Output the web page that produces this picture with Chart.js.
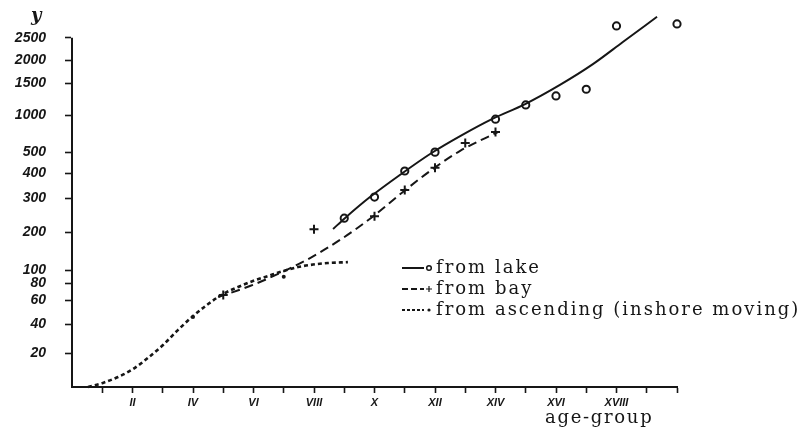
<!DOCTYPE html>
<html lang="en">
<head>
    <meta charset="UTF-8">
    <title>Weight by age-group</title>
    <script src="https://cdn.jsdelivr.net/npm/chart.js@4/dist/chart.umd.min.js"></script>
    <style>
        body { margin: 0; background: #fff; }
    </style>
</head>
<body>

<canvas id="weight-chart" width="810" height="438"></canvas>

<script>
    // x axis: age groups, labelled with roman numerals on the even ones
    const ageTicks = [1, 2, 3, 4, 5, 6, 7, 8, 9, 10, 11, 12, 13, 14, 15, 16, 17, 18, 19, 20];
    const romanLabels = {2: 'II', 4: 'IV', 6: 'VI', 8: 'VIII', 10: 'X', 12: 'XII', 14: 'XIV', 16: 'XVI', 18: 'XVIII'};

    // y axis tick values (weight)
    const weightTicks = [20, 40, 60, 80, 100, 200, 300, 400, 500, 1000, 1500, 2000, 2500];

    // from lake
    const lakeAges = [9, 10, 11, 12, 14, 15, 16, 17, 18, 20];
    const lakeWeights = [242, 306, 410, 500, 946, 1160, 1300, 1405, 2762, 2807];
    const lakeCurveAges = [8.63, 9.02, 9.85, 10.84, 11.9, 12.89, 13.88, 14.98, 16.13, 17.22, 18.21, 19.34];
    const lakeCurveWeights = [210, 242, 306, 393, 497, 730, 946, 1173, 1473, 1914, 2404, 2964];

    // from bay
    const bayAges = [5, 8, 10, 11, 12, 13, 14];
    const bayWeights = [66, 209, 248, 334, 425, 622, 772];
    const bayCurveAges = [4.83, 5.88, 6.88, 7.87, 8.86, 9.92, 10.94, 11.93, 12.83, 14.08];
    const bayCurveWeights = [63.6, 76.8, 95.5, 132, 180, 245, 326, 420, 517, 772];

    // from ascending (inshore moving)
    const ascAges = [4, 7];
    const ascWeights = [46, 90];
    const ascCurveAges = [0.53, 1.02, 1.52, 2.02, 2.51, 3.01, 3.5, 4.0, 4.5, 4.99, 5.49, 5.98, 6.48, 6.98, 7.47, 7.97, 8.46, 9.12];
    const ascCurveWeights = [0, 2.4, 5.9, 10.6, 17.1, 25.6, 36, 46.8, 56.7, 67.2, 75.6, 83.5, 91, 98.5, 108, 114.6, 118.6, 121];

    // the hand drawn weight axis is stretched unevenly: where each stop sits along it (0 = zero, 1 = 2500)
    const axisStops = [0, 20, 40, 60, 80, 100, 200, 300, 400, 500, 1000, 1500, 2000, 2500];
    const axisPlaces = [0, 0.0973, 0.1794, 0.2489, 0.2967, 0.3348, 0.4426, 0.5393, 0.6123, 0.6724, 0.7783, 0.8698, 0.9356, 1];

    function toDecimal(v) {
        let i = 1;
        while (i < axisStops.length - 1 && v > axisStops[i]) i++;
        const a = axisStops[i - 1], b = axisStops[i];
        return axisPlaces[i - 1] + (v - a) / (b - a) * (axisPlaces[i] - axisPlaces[i - 1]);
    }

    function fromDecimal(d) {
        let i = 1;
        while (i < axisPlaces.length - 1 && d > axisPlaces[i]) i++;
        const a = axisPlaces[i - 1], b = axisPlaces[i];
        return axisStops[i - 1] + (d - a) / (b - a) * (axisStops[i] - axisStops[i - 1]);
    }

    class StretchScale extends Chart.LinearScale {
        getPixelForValue(value) {
            if (value === null || isNaN(value)) return NaN;
            return this.getPixelForDecimal(toDecimal(value) / toDecimal(this.max));
        }
        getValueForPixel(pixel) {
            return fromDecimal(this.getDecimalForPixel(pixel) * toDecimal(this.max));
        }
        // the axis line stops at the last tick, like the drawing
        drawBorder() {
            const ctx = this.ctx;
            const border = this.options.border;
            const last = weightTicks[weightTicks.length - 1];
            ctx.save();
            ctx.lineWidth = border.width;
            ctx.strokeStyle = border.color;
            ctx.beginPath();
            ctx.moveTo(this.right, this.getPixelForValue(last));
            ctx.lineTo(this.right, this.bottom + 1);
            ctx.stroke();
            ctx.restore();
        }
    }
    StretchScale.id = 'stretch';
    StretchScale.defaults = Chart.LinearScale.defaults;
    Chart.register(StretchScale);

    const ink = '#161616';

    function points(xs, ys) {
        return xs.map((x, i) => ({x: x, y: ys[i]}));
    }

    const curveStyle = {
        showLine: true,
        pointRadius: 0,
        borderColor: ink,
        borderWidth: 2,
        cubicInterpolationMode: 'monotone',
        clip: false
    };

    const datasets = [
        Object.assign({label: 'from lake', data: points(lakeCurveAges, lakeCurveWeights)}, curveStyle),
        Object.assign({label: 'from bay', data: points(bayCurveAges, bayCurveWeights)}, curveStyle, {borderDash: [9, 5]}),
        Object.assign({label: 'from ascending (inshore moving)', data: points(ascCurveAges, ascCurveWeights)},
            curveStyle, {borderDash: [4, 3], borderWidth: 2.6}),
        {
            data: points(lakeAges, lakeWeights), pointStyle: 'circle', pointRadius: 3.6,
            borderColor: ink, borderWidth: 2, backgroundColor: 'rgba(0,0,0,0)', clip: false
        },
        {
            data: points(bayAges, bayWeights), pointStyle: 'cross', pointRadius: 4.5,
            borderColor: ink, borderWidth: 2, clip: false
        },
        {
            data: points(ascAges, ascWeights), pointStyle: 'circle', pointRadius: 2,
            borderColor: ink, borderWidth: 0, backgroundColor: ink, clip: false
        }
    ];

    // free text: axis names and the key drawn in the plot
    const notes = {
        id: 'notes',
        afterDraw(chart) {
            const ctx = chart.ctx;
            ctx.save();
            ctx.fillStyle = ink;
            ctx.strokeStyle = ink;
            ctx.textBaseline = 'alphabetic';

            ctx.font = 'italic bold 18px "DejaVu Serif"';
            ctx.fillText('y', 31, 21);

            ctx.font = '18px "DejaVu Serif"';
            ctx.letterSpacing = '1.7px';
            ctx.fillText('age-group', 545, 423);

            ctx.font = '18px "DejaVu Serif"';
            ctx.letterSpacing = '2px';
            const rows = [
                {y: 268, dash: [], mark: 'ring'},
                {y: 289, dash: [6, 3], mark: 'cross'},
                {y: 310, dash: [3, 2], mark: 'dot'}
            ];
            rows.forEach((row, i) => {
                ctx.lineWidth = 2;
                ctx.setLineDash(row.dash);
                ctx.beginPath();
                ctx.moveTo(402, row.y);
                ctx.lineTo(424, row.y);
                ctx.stroke();
                ctx.setLineDash([]);
                ctx.beginPath();
                if (row.mark === 'ring') {
                    ctx.lineWidth = 1.5;
                    ctx.arc(429, row.y, 2.3, 0, Math.PI * 2);
                    ctx.stroke();
                } else if (row.mark === 'cross') {
                    ctx.lineWidth = 1.2;
                    ctx.moveTo(426, row.y); ctx.lineTo(432, row.y);
                    ctx.moveTo(429, row.y - 3); ctx.lineTo(429, row.y + 3);
                    ctx.stroke();
                } else {
                    ctx.arc(429, row.y, 1.6, 0, Math.PI * 2);
                    ctx.fill();
                }
                ctx.fillText(chart.data.datasets[i].label, 436, row.y + 5);
            });
            ctx.restore();
        }
    };

    new Chart('weight-chart', {
        type: 'scatter',
        data: {datasets: datasets},
        options: {
            responsive: false,
            animation: false,
            layout: {padding: {top: 15.2, right: 133, bottom: 0, left: 0}},
            plugins: {legend: {display: false}, tooltip: {enabled: false}},
            scales: {
                x: {
                    type: 'linear',
                    min: 0,
                    max: 20,
                    afterBuildTicks: scale => { scale.ticks = ageTicks.map(v => ({value: v})); },
                    afterFit: scale => {
                        scale.height = 51;
                        scale.paddingLeft = 0;
                        scale.paddingRight = 0;
                    },
                    grid: {drawOnChartArea: false, tickLength: 6, tickWidth: 1.6, color: ink},
                    border: {color: ink, width: 2},
                    ticks: {
                        autoSkip: false,
                        maxRotation: 0,
                        padding: 3,
                        color: ink,
                        font: {family: '"Liberation Sans"', size: 11, style: 'italic', weight: 'bold'},
                        callback: value => romanLabels[value] || ''
                    }
                },
                y: {
                    type: 'stretch',
                    min: 0,
                    max: 3000,
                    afterBuildTicks: scale => { scale.ticks = weightTicks.map(v => ({value: v})); },
                    afterFit: scale => {
                        scale.width = 72;
                        scale.paddingTop = 0;
                        scale.paddingBottom = 0;
                    },
                    grid: {drawOnChartArea: false, tickLength: 7, tickWidth: 1.6, color: ink},
                    border: {color: ink, width: 2},
                    ticks: {
                        autoSkip: false,
                        padding: 19,
                        color: ink,
                        font: {family: '"Liberation Sans"', size: 14, style: 'italic', weight: 'bold'},
                        callback: value => String(value)
                    }
                }
            }
        },
        plugins: [notes]
    });
</script>

</body>
</html>
